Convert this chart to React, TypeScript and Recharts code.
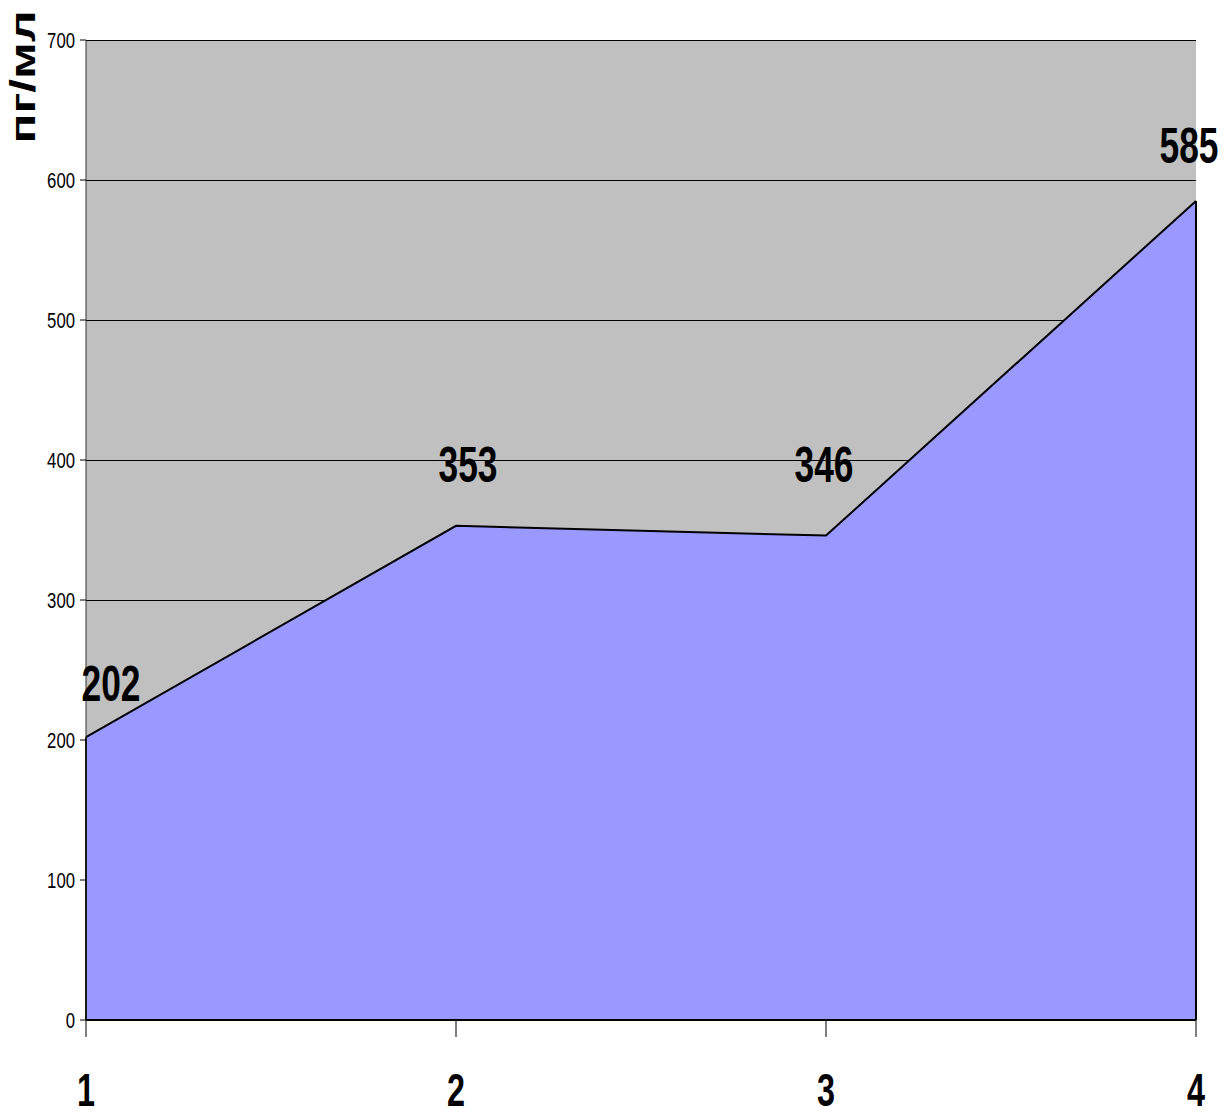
import { AreaChart, Area, XAxis, YAxis, CartesianGrid, ReferenceLine } from 'recharts'

const categories = ['1', '2', '3', '4']
const values = [202, 353, 346, 585]
const yTicks = [0, 100, 200, 300, 400, 500, 600, 700]

// сдвиги подписей значений (как в исходной диаграмме Excel)
const labelDx = [25, 12, -2, -7]
const labelDy = [36, 44, 54, 38]

const chartData = categories.map((c, i) => ({ name: c, value: values[i] }))

const FONT = '"Liberation Sans", Arial, sans-serif'

function ValueLabel(props: any) {
  const { x, y, value, index } = props
  return (
    <text
      x={x + labelDx[index]}
      y={y - labelDy[index]}
      textAnchor="middle"
      fontFamily={FONT}
      fontWeight="bold"
      fontSize={50}
      textLength={59}
      lengthAdjust="spacingAndGlyphs"
      fill="#000"
    >
      {value}
    </text>
  )
}

function XTick(props: any) {
  const { x, payload } = props
  return (
    <text
      x={x}
      y={1106}
      textAnchor="middle"
      fontFamily={FONT}
      fontWeight="bold"
      fontSize={46}
      textLength={18}
      lengthAdjust="spacingAndGlyphs"
      fill="#000"
    >
      {payload.value}
    </text>
  )
}

function YTick(props: any) {
  const { x, y, payload } = props
  const s = String(payload.value)
  return (
    <text
      x={x - 3}
      y={y + 8}
      textAnchor="end"
      fontFamily={FONT}
      fontSize={22}
      textLength={s.length * 9.3}
      lengthAdjust="spacingAndGlyphs"
      fill="#000"
    >
      {s}
    </text>
  )
}

export default function App() {
  return (
    <div style={{ margin: -8, width: 1232, height: 1118, background: '#fff' }}>
      <AreaChart
        width={1232}
        height={1118}
        data={chartData}
        margin={{ top: 40, right: 36, bottom: 0, left: 0 }}
      >
        <CartesianGrid
          fill="#c0c0c0"
          vertical={false}
          stroke="#000"
          strokeWidth={1}
          shapeRendering="crispEdges"
        />
        <XAxis
          dataKey="name"
          height={98}
          tick={<XTick />}
          tickLine={{ stroke: '#000' }}
          tickSize={17}
          axisLine={{ stroke: '#000', strokeWidth: 2 }}
          interval={0}
        />
        <YAxis
          domain={[0, 700]}
          ticks={yTicks}
          width={86}
          tick={<YTick />}
          tickSize={6}
          tickLine={{ stroke: '#000' }}
          axisLine={{ stroke: '#333' }}
          label={{
            content: () => (
              <text
                x={35}
                y={77}
                transform="rotate(-90, 35, 77)"
                textAnchor="middle"
                fontFamily={FONT}
                fontWeight="bold"
                fontSize={35}
                textLength={133}
                lengthAdjust="spacingAndGlyphs"
                fill="#000"
              >
                пг/мл
              </text>
            ),
          }}
        />
        <YAxis
          yAxisId="right"
          orientation="right"
          domain={[0, 700]}
          width={0}
          tick={false}
          tickLine={false}
          axisLine={{ stroke: '#808080' }}
        />
        <Area
          type="linear"
          dataKey="value"
          stroke="#000"
          strokeWidth={2}
          fill="#9999ff"
          fillOpacity={1}
          isAnimationActive={false}
          dot={false}
          activeDot={false}
          label={<ValueLabel />}
        />
        <ReferenceLine
          segment={[
            { x: categories[3], y: 0 },
            { x: categories[3], y: values[3] },
          ]}
          stroke="#000"
          strokeWidth={2}
        />
        <ReferenceLine
          segment={[
            { x: categories[0], y: 0 },
            { x: categories[0], y: values[0] },
          ]}
          stroke="#000"
          strokeWidth={2}
        />
      </AreaChart>
    </div>
  )
}
